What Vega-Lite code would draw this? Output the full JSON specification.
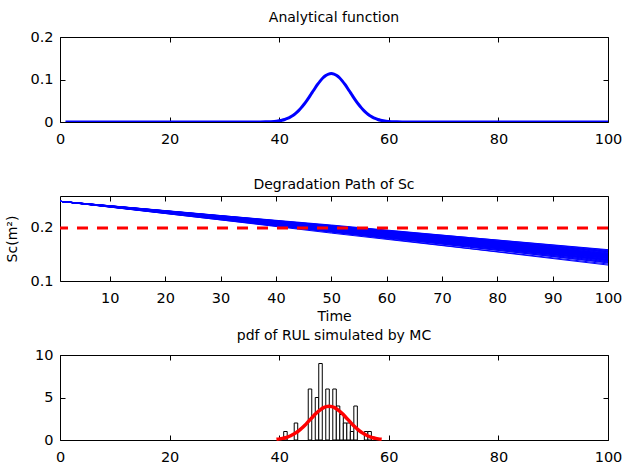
{
  "$schema": "https://vega.github.io/schema/vega-lite/v6.json",
  "background": "white",
  "padding": {"left": 5, "top": 10, "right": 5, "bottom": 5},
  "bounds": "flush",
  "spacing": 74,
  "config": {
    "font": "DejaVu Sans",
    "view": {"stroke": "black", "strokeWidth": 1},
    "axis": {
      "domain": false, "grid": false, "ticks": true, "tickSize": 5, "offset": -5, "tickColor": "black", "tickWidth": 1,
      "labelColor": "black", "labelFontSize": 14.5, "labelFont": "DejaVu Sans",
      "labelFlush": false, "labelOverlap": false,
      "titleFontSize": 14, "titleFont": "DejaVu Sans", "titleFontWeight": "normal", "titleColor": "black"
    },
    "axisX": {"labelPadding": 10},
    "axisY": {"labelPadding": 7},
    "title": {"fontSize": 14, "font": "DejaVu Sans", "fontWeight": "normal", "color": "black", "offset": 4, "anchor": "middle"}
  },
  "datasets": {
    "fn": [
      {"t":1,"f":0},{"t":35,"f":0},{"t":36.5,"f":0.0001},{"t":37.5,"f":0.0003},{"t":38.5,"f":0.0008},{"t":39.5,"f":0.0019},
      {"t":40,"f":0.0029},{"t":40.5,"f":0.0042},{"t":41,"f":0.006},{"t":41.5,"f":0.0084},{"t":42,"f":0.0115},{"t":42.5,"f":0.0154},
      {"t":43,"f":0.0203},{"t":43.5,"f":0.0262},{"t":44,"f":0.0332},{"t":44.5,"f":0.0411},{"t":45,"f":0.0499},{"t":45.5,"f":0.0593},
      {"t":46,"f":0.0691},{"t":46.5,"f":0.0789},{"t":47,"f":0.0883},{"t":47.5,"f":0.0968},{"t":48,"f":0.104},{"t":48.5,"f":0.1094},
      {"t":49,"f":0.1128},{"t":49.5,"f":0.114},{"t":50,"f":0.1128},{"t":50.5,"f":0.1094},{"t":51,"f":0.104},{"t":51.5,"f":0.0968},
      {"t":52,"f":0.0883},{"t":52.5,"f":0.0789},{"t":53,"f":0.0691},{"t":53.5,"f":0.0593},{"t":54,"f":0.0499},{"t":54.5,"f":0.0411},
      {"t":55,"f":0.0332},{"t":55.5,"f":0.0262},{"t":56,"f":0.0203},{"t":56.5,"f":0.0154},{"t":57,"f":0.0115},{"t":57.5,"f":0.0084},
      {"t":58,"f":0.006},{"t":58.5,"f":0.0042},{"t":59,"f":0.0029},{"t":59.5,"f":0.0019},{"t":60.5,"f":0.0008},{"t":61.5,"f":0.0003},
      {"t":62.5,"f":0.0001},{"t":64,"f":0},{"t":100,"f":0}
    ],
    "paths": [
      {"p":1,"t":1,"s":0.25},{"p":1,"t":25,"s":0.2212},{"p":1,"t":50,"s":0.1902},{"p":1,"t":75,"s":0.1608},{"p":1,"t":100,"s":0.130},
      {"p":2,"t":1,"s":0.25},{"p":2,"t":25,"s":0.2210},{"p":2,"t":50,"s":0.1920},{"p":2,"t":75,"s":0.1612},{"p":2,"t":100,"s":0.132},
      {"p":3,"t":1,"s":0.25},{"p":3,"t":25,"s":0.2222},{"p":3,"t":50,"s":0.1922},{"p":3,"t":75,"s":0.1638},{"p":3,"t":100,"s":0.134},
      {"p":4,"t":1,"s":0.25},{"p":4,"t":25,"s":0.2218},{"p":4,"t":50,"s":0.1935},{"p":4,"t":75,"s":0.1636},{"p":4,"t":100,"s":0.135},
      {"p":5,"t":1,"s":0.25},{"p":5,"t":25,"s":0.2227},{"p":5,"t":50,"s":0.1932},{"p":5,"t":75,"s":0.1652},{"p":5,"t":100,"s":0.136},
      {"p":6,"t":1,"s":0.25},{"p":6,"t":25,"s":0.2223},{"p":6,"t":50,"s":0.1945},{"p":6,"t":75,"s":0.1651},{"p":6,"t":100,"s":0.137},
      {"p":7,"t":1,"s":0.25},{"p":7,"t":25,"s":0.2232},{"p":7,"t":50,"s":0.1942},{"p":7,"t":75,"s":0.1667},{"p":7,"t":100,"s":0.138},
      {"p":8,"t":1,"s":0.25},{"p":8,"t":25,"s":0.2228},{"p":8,"t":50,"s":0.1955},{"p":8,"t":75,"s":0.1666},{"p":8,"t":100,"s":0.139},
      {"p":9,"t":1,"s":0.25},{"p":9,"t":25,"s":0.2234},{"p":9,"t":50,"s":0.1948},{"p":9,"t":75,"s":0.1674},{"p":9,"t":100,"s":0.1392},
      {"p":10,"t":1,"s":0.25},{"p":10,"t":25,"s":0.2230},{"p":10,"t":50,"s":0.1960},{"p":10,"t":75,"s":0.1674},{"p":10,"t":100,"s":0.140},
      {"p":11,"t":1,"s":0.25},{"p":11,"t":25,"s":0.2239},{"p":11,"t":50,"s":0.1957},{"p":11,"t":75,"s":0.1689},{"p":11,"t":100,"s":0.141},
      {"p":12,"t":1,"s":0.25},{"p":12,"t":25,"s":0.2233},{"p":12,"t":50,"s":0.1964},{"p":12,"t":75,"s":0.1681},{"p":12,"t":100,"s":0.1408},
      {"p":13,"t":1,"s":0.25},{"p":13,"t":25,"s":0.2241},{"p":13,"t":50,"s":0.1962},{"p":13,"t":75,"s":0.1697},{"p":13,"t":100,"s":0.142},
      {"p":14,"t":1,"s":0.25},{"p":14,"t":25,"s":0.2238},{"p":14,"t":50,"s":0.1974},{"p":14,"t":75,"s":0.1696},{"p":14,"t":100,"s":0.143},
      {"p":15,"t":1,"s":0.25},{"p":15,"t":25,"s":0.2244},{"p":15,"t":50,"s":0.1967},{"p":15,"t":75,"s":0.1704},{"p":15,"t":100,"s":0.1432},
      {"p":16,"t":1,"s":0.25},{"p":16,"t":25,"s":0.2240},{"p":16,"t":50,"s":0.1979},{"p":16,"t":75,"s":0.1704},{"p":16,"t":100,"s":0.144},
      {"p":17,"t":1,"s":0.25},{"p":17,"t":25,"s":0.2246},{"p":17,"t":50,"s":0.1972},{"p":17,"t":75,"s":0.1712},{"p":17,"t":100,"s":0.1442},
      {"p":18,"t":1,"s":0.25},{"p":18,"t":25,"s":0.2242},{"p":18,"t":50,"s":0.1984},{"p":18,"t":75,"s":0.1711},{"p":18,"t":100,"s":0.145},
      {"p":19,"t":1,"s":0.25},{"p":19,"t":25,"s":0.2248},{"p":19,"t":50,"s":0.1977},{"p":19,"t":75,"s":0.1719},{"p":19,"t":100,"s":0.1448},
      {"p":20,"t":1,"s":0.25},{"p":20,"t":25,"s":0.2245},{"p":20,"t":50,"s":0.1989},{"p":20,"t":75,"s":0.1719},{"p":20,"t":100,"s":0.146},
      {"p":21,"t":1,"s":0.25},{"p":21,"t":25,"s":0.2251},{"p":21,"t":50,"s":0.1982},{"p":21,"t":75,"s":0.1727},{"p":21,"t":100,"s":0.1462},
      {"p":22,"t":1,"s":0.25},{"p":22,"t":25,"s":0.2247},{"p":22,"t":50,"s":0.1994},{"p":22,"t":75,"s":0.1726},{"p":22,"t":100,"s":0.147},
      {"p":23,"t":1,"s":0.25},{"p":23,"t":25,"s":0.2253},{"p":23,"t":50,"s":0.1987},{"p":23,"t":75,"s":0.1734},{"p":23,"t":100,"s":0.1468},
      {"p":24,"t":1,"s":0.25},{"p":24,"t":25,"s":0.2250},{"p":24,"t":50,"s":0.1999},{"p":24,"t":75,"s":0.1734},{"p":24,"t":100,"s":0.148},
      {"p":25,"t":1,"s":0.25},{"p":25,"t":25,"s":0.2256},{"p":25,"t":50,"s":0.1992},{"p":25,"t":75,"s":0.1742},{"p":25,"t":100,"s":0.1482},
      {"p":26,"t":1,"s":0.25},{"p":26,"t":25,"s":0.2252},{"p":26,"t":50,"s":0.2004},{"p":26,"t":75,"s":0.1741},{"p":26,"t":100,"s":0.149},
      {"p":27,"t":1,"s":0.25},{"p":27,"t":25,"s":0.2258},{"p":27,"t":50,"s":0.1996},{"p":27,"t":75,"s":0.1749},{"p":27,"t":100,"s":0.1492},
      {"p":28,"t":1,"s":0.25},{"p":28,"t":25,"s":0.2255},{"p":28,"t":50,"s":0.2009},{"p":28,"t":75,"s":0.1749},{"p":28,"t":100,"s":0.150},
      {"p":29,"t":1,"s":0.25},{"p":29,"t":25,"s":0.2261},{"p":29,"t":50,"s":0.2001},{"p":29,"t":75,"s":0.1757},{"p":29,"t":100,"s":0.1498},
      {"p":30,"t":1,"s":0.25},{"p":30,"t":25,"s":0.2257},{"p":30,"t":50,"s":0.2014},{"p":30,"t":75,"s":0.1756},{"p":30,"t":100,"s":0.151},
      {"p":31,"t":1,"s":0.25},{"p":31,"t":25,"s":0.2265},{"p":31,"t":50,"s":0.2011},{"p":31,"t":75,"s":0.1771},{"p":31,"t":100,"s":0.152},
      {"p":32,"t":1,"s":0.25},{"p":32,"t":25,"s":0.2259},{"p":32,"t":50,"s":0.2019},{"p":32,"t":75,"s":0.1763},{"p":32,"t":100,"s":0.1518},
      {"p":33,"t":1,"s":0.25},{"p":33,"t":25,"s":0.2268},{"p":33,"t":50,"s":0.2016},{"p":33,"t":75,"s":0.1779},{"p":33,"t":100,"s":0.153},
      {"p":34,"t":1,"s":0.25},{"p":34,"t":25,"s":0.2264},{"p":34,"t":50,"s":0.2029},{"p":34,"t":75,"s":0.1778},{"p":34,"t":100,"s":0.154},
      {"p":35,"t":1,"s":0.25},{"p":35,"t":25,"s":0.2273},{"p":35,"t":50,"s":0.2026},{"p":35,"t":75,"s":0.1794},{"p":35,"t":100,"s":0.155},
      {"p":36,"t":1,"s":0.25},{"p":36,"t":25,"s":0.2267},{"p":36,"t":50,"s":0.2034},{"p":36,"t":75,"s":0.1786},{"p":36,"t":100,"s":0.1552},
      {"p":37,"t":1,"s":0.25},{"p":37,"t":25,"s":0.2275},{"p":37,"t":50,"s":0.2031},{"p":37,"t":75,"s":0.1801},{"p":37,"t":100,"s":0.156},
      {"p":38,"t":1,"s":0.25},{"p":38,"t":25,"s":0.2272},{"p":38,"t":50,"s":0.2044},{"p":38,"t":75,"s":0.1801},{"p":38,"t":100,"s":0.157},
      {"p":39,"t":1,"s":0.25},{"p":39,"t":25,"s":0.2280},{"p":39,"t":50,"s":0.2041},{"p":39,"t":75,"s":0.1816},{"p":39,"t":100,"s":0.158},
      {"p":40,"t":1,"s":0.25},{"p":40,"t":25,"s":0.2276},{"p":40,"t":50,"s":0.2054},{"p":40,"t":75,"s":0.1817},{"p":40,"t":100,"s":0.159}
    ],
    "hist": [
      {"lo":40.82,"hi":41.46,"n":1},{"lo":42.74,"hi":43.38,"n":2},{"lo":45.30,"hi":45.94,"n":6},
      {"lo":46.58,"hi":47.22,"n":5},{"lo":47.22,"hi":47.86,"n":9},{"lo":48.50,"hi":49.14,"n":6},
      {"lo":49.78,"hi":50.42,"n":6},{"lo":50.42,"hi":51.06,"n":4},{"lo":51.06,"hi":51.70,"n":3},
      {"lo":51.70,"hi":52.34,"n":2},{"lo":52.34,"hi":52.98,"n":2},{"lo":52.98,"hi":53.62,"n":1},
      {"lo":53.62,"hi":54.26,"n":4},{"lo":55.54,"hi":56.18,"n":1},{"lo":56.18,"hi":56.82,"n":1}
    ],
    "fit": [
      {"t":39.5,"g":0.08},{"t":40.1,"g":0.13},{"t":40.6,"g":0.19},{"t":41.1,"g":0.27},{"t":41.6,"g":0.37},{"t":42.1,"g":0.5},
      {"t":42.6,"g":0.67},{"t":43.1,"g":0.87},{"t":43.6,"g":1.11},{"t":44.1,"g":1.38},{"t":44.6,"g":1.69},{"t":45.1,"g":2.02},
      {"t":45.6,"g":2.37},{"t":46.1,"g":2.71},{"t":46.6,"g":3.05},{"t":47.1,"g":3.35},{"t":47.6,"g":3.61},{"t":48.1,"g":3.81},
      {"t":48.6,"g":3.93},{"t":49.1,"g":3.97},{"t":49.6,"g":3.93},{"t":50.1,"g":3.81},{"t":50.6,"g":3.61},{"t":51.1,"g":3.35},
      {"t":51.6,"g":3.05},{"t":52.1,"g":2.71},{"t":52.6,"g":2.37},{"t":53.1,"g":2.02},{"t":53.6,"g":1.69},{"t":54.1,"g":1.38},
      {"t":54.6,"g":1.11},{"t":55.1,"g":0.87},{"t":55.6,"g":0.67},{"t":56.1,"g":0.5},{"t":56.6,"g":0.37},{"t":57.1,"g":0.27},
      {"t":57.6,"g":0.19},{"t":58.1,"g":0.13},{"t":58.7,"g":0.08}
    ]
  },
  "vconcat": [
    {
      "width": 548, "height": 85,
      "title": {"text": "Analytical function"},
      "data": {"name": "fn"},
      "layer": [
        {
          "mark": {"type": "line", "color": "#0000ff", "strokeWidth": 3, "interpolate": "monotone", "clip": true},
          "encoding": {
            "x": {"field": "t", "type": "quantitative", "scale": {"domain": [0, 100], "nice": false, "zero": false},
                  "axis": {"orient": "bottom", "values": [0, 20, 40, 60, 80, 100], "title": null}},
            "y": {"field": "f", "type": "quantitative", "scale": {"domain": [0, 0.2], "nice": false},
                  "axis": {"orient": "left", "values": [0, 0.1, 0.2], "title": null, "labelExpr": "datum.value == 0 ? '0' : format(datum.value, '.1f')"}}
          }
        },
        {
          "mark": {"type": "line", "opacity": 0},
          "encoding": {
            "x": {"field": "t", "type": "quantitative", "axis": {"orient": "top", "values": [0, 20, 40, 60, 80, 100], "labels": false, "title": null}},
            "y": {"field": "f", "type": "quantitative", "axis": {"orient": "right", "values": [0, 0.1, 0.2], "labels": false, "title": null}}
          }
        }
      ],
      "resolve": {"axis": {"x": "independent", "y": "independent"}}
    },
    {
      "width": 548, "height": 85,
      "title": {"text": "Degradation Path of Sc"},
      "layer": [
        {
          "data": {"name": "paths"},
          "mark": {"type": "line", "color": "#0000ff", "strokeWidth": 1},
          "encoding": {
            "x": {"field": "t", "type": "quantitative", "scale": {"domain": [1, 100], "nice": false, "zero": false},
                  "axis": {"orient": "bottom", "values": [10, 20, 30, 40, 50, 60, 70, 80, 90, 100], "title": "Time", "titlePadding": 5}},
            "y": {"field": "s", "type": "quantitative", "scale": {"domain": [0.1, 0.26], "nice": false, "zero": false},
                  "axis": {"orient": "left", "values": [0.1, 0.2], "format": ".1f", "title": "Sc(m²)", "titlePadding": 10}},
            "detail": {"field": "p", "type": "nominal"}
          }
        },
        {
          "data": {"values": [{"c": 0.2}]},
          "mark": {"type": "rule", "color": "#ff0000", "strokeWidth": 3, "strokeDash": [11, 9]},
          "encoding": {
            "y": {"field": "c", "type": "quantitative", "axis": {"orient": "right", "values": [0.1, 0.2], "labels": false, "title": null}}
          }
        },
        {
          "data": {"name": "paths"},
          "mark": {"type": "line", "opacity": 0},
          "encoding": {
            "x": {"field": "t", "type": "quantitative", "axis": {"orient": "top", "values": [10, 20, 30, 40, 50, 60, 70, 80, 90, 100], "labels": false, "title": null}},
            "y": {"field": "s", "type": "quantitative", "axis": null},
            "detail": {"field": "p", "type": "nominal"}
          }
        }
      ],
      "resolve": {"axis": {"x": "independent", "y": "independent"}}
    },
    {
      "width": 548, "height": 85,
      "title": {"text": "pdf of RUL simulated by MC"},
      "layer": [
        {
          "data": {"name": "hist"},
          "mark": {"type": "rect", "fill": "white", "stroke": "black", "strokeWidth": 1},
          "encoding": {
            "x": {"field": "lo", "type": "quantitative", "scale": {"domain": [0, 100], "nice": false, "zero": false},
                  "axis": {"orient": "bottom", "values": [0, 20, 40, 60, 80, 100], "title": null}},
            "x2": {"field": "hi"},
            "y": {"field": "n", "type": "quantitative", "scale": {"domain": [0, 10], "nice": false},
                  "axis": {"orient": "left", "values": [0, 5, 10], "format": "d", "title": null}},
            "y2": {"datum": 0}
          }
        },
        {
          "data": {"name": "fit"},
          "mark": {"type": "line", "color": "#ff0000", "strokeWidth": 3.5, "interpolate": "monotone"},
          "encoding": {
            "x": {"field": "t", "type": "quantitative", "axis": {"orient": "top", "values": [0, 20, 40, 60, 80, 100], "labels": false, "title": null}},
            "y": {"field": "g", "type": "quantitative", "axis": {"orient": "right", "values": [0, 5, 10], "labels": false, "title": null}}
          }
        }
      ],
      "resolve": {"axis": {"x": "independent", "y": "independent"}}
    }
  ]
}
